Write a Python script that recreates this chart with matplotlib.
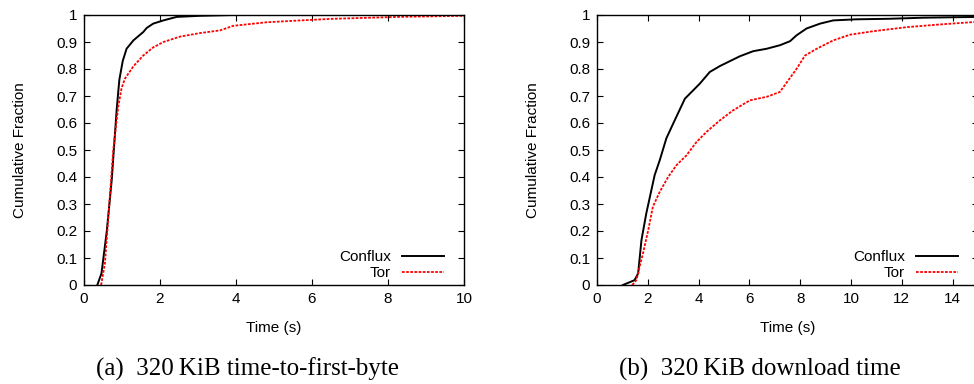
import matplotlib
matplotlib.use("Agg")
import matplotlib.pyplot as plt
from matplotlib.ticker import FormatStrFormatter

plt.rcParams['font.family'] = ['Liberation Sans', 'DejaVu Sans']

# (a) time-to-first-byte CDF
ttfb_conflux_x = [0.35, 0.46, 0.60, 0.73, 0.86, 0.93, 1.02, 1.12, 1.30, 1.56, 1.65, 1.82,
                  2.09, 2.44, 3.05, 3.93, 6.0, 10.0]
ttfb_conflux_y = [0.0, 0.043, 0.20, 0.39, 0.65, 0.76, 0.83, 0.875, 0.906, 0.937, 0.952, 0.968,
                  0.98, 0.993, 0.997, 1.0, 1.0, 1.0]
ttfb_tor_x = [0.45, 0.55, 0.64, 0.77, 0.90, 0.99, 1.08, 1.30, 1.56, 1.82, 2.09, 2.53,
              3.05, 3.58, 3.93, 4.80, 5.70, 6.56, 8.30, 10.0]
ttfb_tor_y = [0.0, 0.08, 0.25, 0.50, 0.66, 0.73, 0.765, 0.81, 0.85, 0.88, 0.90, 0.92,
              0.933, 0.943, 0.96, 0.973, 0.98, 0.986, 0.993, 0.997]

# (b) download time CDF
dl_conflux_x = [1.02, 1.48, 1.62, 1.75, 1.94, 2.27, 2.47, 2.73, 3.00, 3.46, 4.05, 4.44,
                4.84, 5.23, 5.62, 6.15, 6.68, 7.20, 7.60, 7.86, 8.25, 8.78, 9.30, 10.2,
                11.5, 12.85, 15.0]
dl_conflux_y = [0.0, 0.018, 0.043, 0.166, 0.265, 0.407, 0.462, 0.543, 0.598, 0.69, 0.746, 0.789,
                0.811, 0.829, 0.847, 0.866, 0.875, 0.888, 0.903, 0.925, 0.95, 0.968, 0.98, 0.984,
                0.986, 0.99, 0.993]
dl_tor_x = [1.39, 1.55, 1.68, 1.81, 2.01, 2.20, 2.47, 2.80, 3.13, 3.52, 3.92, 4.31,
            4.84, 5.36, 6.02, 6.68, 7.20, 7.53, 7.86, 8.19, 8.65, 9.30, 9.96, 10.88,
            12.2, 13.5, 15.0]
dl_tor_y = [0.0, 0.018, 0.068, 0.117, 0.20, 0.29, 0.345, 0.40, 0.444, 0.48, 0.53, 0.567,
            0.61, 0.647, 0.684, 0.697, 0.715, 0.758, 0.801, 0.85, 0.875, 0.906, 0.927, 0.94,
            0.955, 0.965, 0.975]

captions = ["(a)  320\u2009KiB time-to-first-byte", "(b)  320\u2009KiB download time"]

W, H = 974, 384
fig = plt.figure(figsize=(W / 100, H / 100), dpi=100)
ax1 = fig.add_axes([84 / W, (H - 285) / H, 380 / W, 270 / H])
ax2 = fig.add_axes([597 / W, (H - 285) / H, 381 / W, 270 / H])

panels = [
    (ax1, ttfb_conflux_x, ttfb_conflux_y, ttfb_tor_x, ttfb_tor_y, 10, range(0, 11, 2)),
    (ax2, dl_conflux_x, dl_conflux_y, dl_tor_x, dl_tor_y, 15, range(0, 15, 2)),
]

for ax, cx, cy, tx, ty, xmax, xt in panels:
    ax.plot(cx, cy, color='black', lw=1.4, label='Conflux')
    ax.plot(tx, ty, color='#ff0000', lw=1.3, dashes=(1.5, 0.8), label='Tor')
    ax.set_xlim(0, xmax)
    ax.set_ylim(0, 1)
    ax.set_xticks(list(xt))
    ax.set_yticks([i / 10 for i in range(11)])
    ax.yaxis.set_major_formatter(FormatStrFormatter('%g'))
    ax.tick_params(direction='in', length=4, width=0.8, labelsize=11,
                   top=True, right=True, pad=5)
    for s in ax.spines.values():
        s.set_linewidth(1.0)
    ax.set_xlabel('Time (s)', fontsize=11, labelpad=11)
    ax.set_ylabel('Cumulative Fraction', fontsize=11, labelpad=21)
    axw = W * ax.get_position().width
    ax.legend(loc='lower right', markerfirst=False, frameon=False, fontsize=11,
              handlelength=2.8, handletextpad=0.7, labelspacing=0.12,
              borderaxespad=0.3, bbox_to_anchor=(1 - 9 / axw, -6 / 270))

fig.text(247 / W, 1 - 369 / H, captions[0], ha='center', va='center',
         fontsize=18, family='Liberation Serif')
fig.text(760 / W, 1 - 369 / H, captions[1], ha='center', va='center',
         fontsize=18, family='Liberation Serif')

fig.savefig('out.png', dpi=100)
